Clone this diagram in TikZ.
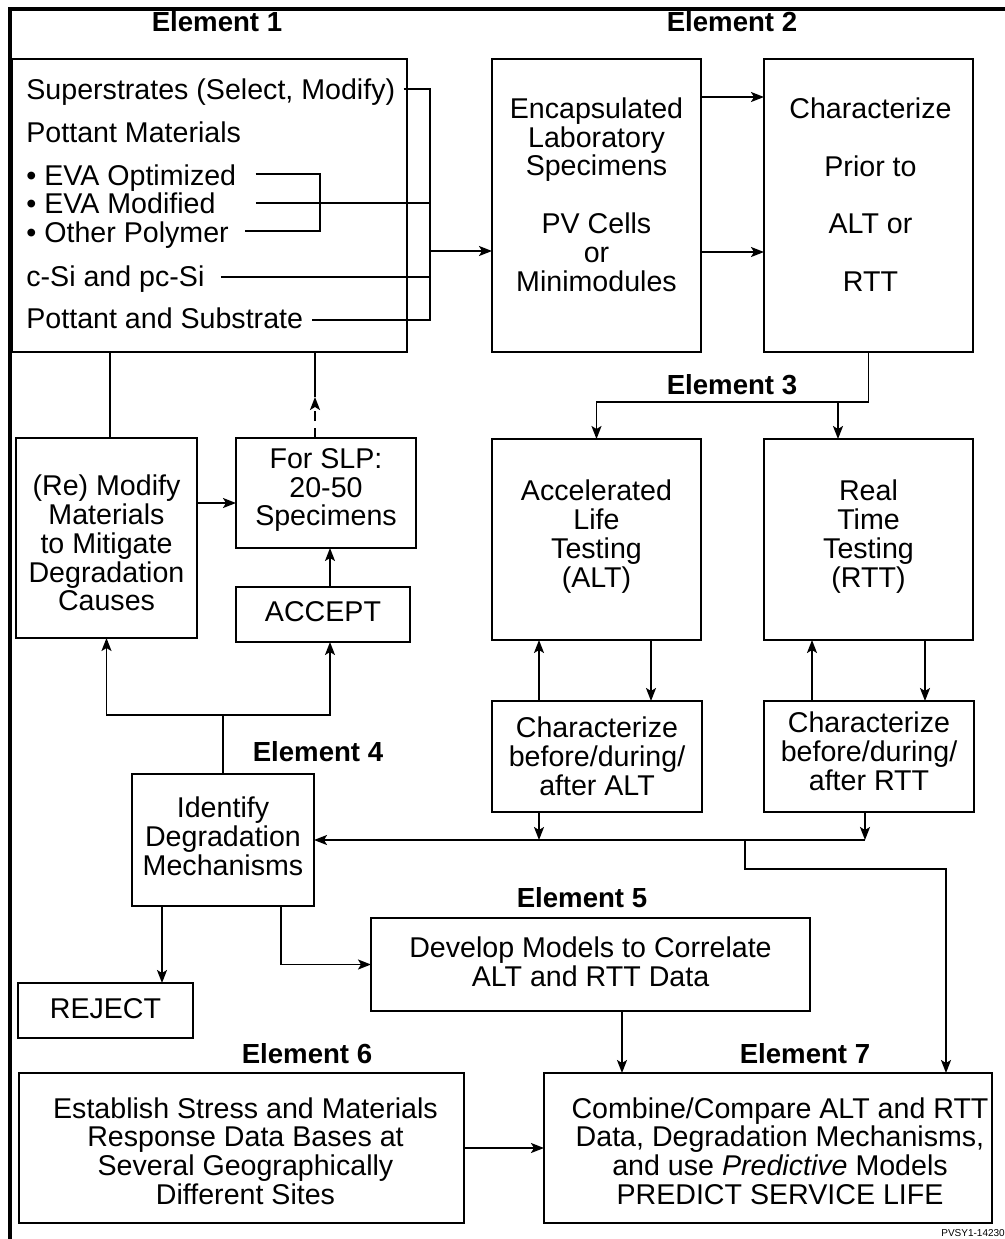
\documentclass[tikz,border=0pt]{standalone}
\usepackage{fontspec}
\setmainfont{Liberation Sans}
\usetikzlibrary{arrows.meta,calc}

% box drawn from corner (x1,y1) to (x2,y2), with its text placed at the centre plus an offset
\newcommand\boxat[7]{%
  \node[box,minimum width={(#4-#2)*0.5pt},minimum height={(#5-#3)*0.5pt}] (#1) at ({(#2+#4)/2},{(#3+#5)/2}) {};
  \node[txt] (#1-t) at ($(#1.center)+(#6)$) {#7};}

\begin{document}
\begin{tikzpicture}[x=0.5pt,y=-0.5pt,
  box/.style={draw,line width=1pt,inner sep=0pt,outer sep=0pt},
  txt/.style={align=center,inner sep=0pt,font=\fontsize{14.3}{14.4}\selectfont},
  ltxt/.style={anchor=base west,inner sep=0pt,font=\fontsize{14.3}{14.4}\selectfont},
  head/.style={inner sep=0pt,font=\fontsize{13.8}{14}\selectfont\bfseries},
  wire/.style={line width=0.9pt},
  arr/.style={wire,-{Stealth[length=6.5pt,width=5pt,inset=1.5pt]}},
]
\useasboundingbox (0,0) rectangle (1005,1239);

% outer frame (top and left)
\draw[line width=1.6pt] (10,1245) -- (10,9) -- (1010,9);

% headings
\node[head] (el1) at (217,22) {Element 1};
\node[head] (el2) at (732,22) {Element 2};
\node[head] (el3) at (732,385) {Element 3};
\node[head] (el4) at (318,752) {Element 4};
\node[head] (el5) at (582,898) {Element 5};
\node[head] (el6) at (307,1054) {Element 6};
\node[head] (el7) at (805,1054) {Element 7};

% Element 1: materials
\node[box,minimum width={(407-12)*0.5pt},minimum height={(352-59)*0.5pt}] (e1) at ({(12+407)/2},{(59+352)/2}) {};
\node[ltxt] (sup)  at (26,99)  {Superstrates (Select, Modify)};
\node[ltxt] (potm) at (26,142) {Pottant Materials};
\node[ltxt] (evao) at (26,185) {\textbullet\ EVA Optimized};
\node[ltxt] (evam) at (26,213) {\textbullet\ EVA Modified};
\node[ltxt] (othp) at (26,242) {\textbullet\ Other Polymer};
\node[ltxt] (csi)  at (26,286) {c-Si and pc-Si};
\node[ltxt] (pns)  at (26,328) {Pottant and Substrate};

% Element 2 and 3 boxes
\boxat{encap}{492}{59}{701}{352}{0,-11}{Encapsulated\\Laboratory\\Specimens\\[14.4pt]PV Cells\\or\\Minimodules}
\boxat{prior}{764}{59}{973}{352}{2,-11}{Characterize\\[14.4pt]Prior to\\[14.4pt]ALT or\\[14.4pt]RTT}
\boxat{alt}{492}{439}{701}{640}{0,-3}{Accelerated\\Life\\Testing\\(ALT)}
\boxat{rtt}{764}{439}{973}{640}{0,-3}{Real\\Time\\Testing\\(RTT)}
\boxat{calt}{492}{701}{702}{812}{0,0}{Characterize\\before/during/\\after ALT}
\boxat{crtt}{764}{701}{974}{812}{0,-5}{Characterize\\before/during/\\after RTT}

% left column
\boxat{modify}{16}{438}{197}{638}{0,5}{(Re) Modify\\Materials\\to Mitigate\\Degradation\\Causes}
\boxat{slp}{236}{438}{416}{548}{0,-3}{For SLP:\\20-50\\Specimens}
\boxat{accept}{236}{587}{410}{642}{0,-3}{ACCEPT}
\boxat{ident}{132}{774}{314}{906}{0,-4}{Identify\\Degradation\\Mechanisms}
\boxat{reject}{18}{983}{193}{1038}{0,-2}{REJECT}

% Elements 5, 6, 7
\boxat{develop}{371}{918}{810}{1011}{0,-3}{Develop Models to Correlate\\ALT and RTT Data}
\boxat{est}{19}{1073}{464}{1223}{4,3}{Establish Stress and Materials\\Response Data Bases at\\Several Geographically\\Different Sites}
\boxat{comb}{544}{1073}{992}{1223}{12,3}{Combine/Compare ALT and RTT\\Data, Degradation Mechanisms,\\and use \textit{Predictive} Models\\PREDICT SERVICE LIFE}

\node[anchor=base west,inner sep=0pt,font=\fontsize{5}{5}\selectfont] (code) at (941,1236) {PVSY1-14230};

% Element 1 collector lines
\coordinate (busB) at (430,320);
\coordinate (busM) at (430,251);
\coordinate (evaj) at (320,231);
\draw[wire] ($(sup.base east)+(8,-10)$) -| (busB) -- ($(pns.base east)+(9,-8)$);
\draw[wire] ($(evao.base east)+(19,-11)$) -| (evaj) -- ($(othp.base east)+(16,-11)$);
\coordinate (evamL) at ($(evam.base east)+(40,-10)$);
\draw[wire] (evamL) -- (evamL -| busB);
\coordinate (csiL) at ($(csi.base east)+(16,-9)$);
\draw[wire] (csiL) -- (csiL -| busB);
\draw[arr] (busM) -- (busM -| encap.west);

% Element 2 links
\draw[arr] ($(encap.north east)+(0,38)$) -- ($(prior.north west)+(0,38)$);
\draw[arr] ($(encap.north east)+(0,193)$) -- ($(prior.north west)+(0,193)$);

% Element 3 split
\draw[arr] (prior.south) -- ++(0,50) -| (alt.north);
\coordinate (e3s) at (838,402);
\draw[arr] (e3s) -- (e3s |- rtt.north);

% testing and characterisation loops
\draw[arr] ($(calt.north west)+(47,0)$) -- ($(alt.south west)+(47,0)$);
\draw[arr] ($(alt.south west)+(159,0)$) -- ($(calt.north west)+(159,0)$);
\draw[arr] ($(crtt.north west)+(48,0)$) -- ($(rtt.south west)+(48,0)$);
\draw[arr] ($(rtt.south west)+(161,0)$) -- ($(crtt.north west)+(161,0)$);

% results to Element 4 and Element 7
\coordinate (bus2) at (865,840);
\coordinate (br) at (745,840);
\draw[arr] ($(calt.south west)+(47,0)$) -- ++(0,28);
\draw[arr] ($(crtt.south west)+(101,0)$) -- ++(0,28);
\draw[arr] (bus2) -- (bus2 -| ident.east);
\draw[arr] (br) -- ++(0,29) -| ($(comb.north west)+(402,0)$);

% Element 4 feedback
\draw[arr] (ident.north) -- ++(0,-59) -| (modify.south);
\draw[arr] (ident.north) ++(0,-59) -| ($(accept.south west)+(94,0)$);
\draw[arr] ($(accept.north west)+(94,0)$) -- ($(slp.south west)+(94,0)$);
\draw[arr] ($(modify.north east)+(0,65)$) -- ($(slp.north west)+(0,65)$);
\coordinate (m1) at ($(e1.south west)+(98,0)$);
\draw[wire] (m1) -- (m1 |- modify.north);
\coordinate (dtop) at ($(slp.north west)+(79,-41)$);
\draw[arr,dash pattern=on 5pt off 3.5pt] ($(slp.north west)+(79,0)$) -- (dtop);
\draw[wire] (dtop) -- (dtop |- e1.south);

% Element 4 outputs
\coordinate (r1) at ($(ident.south west)+(30,0)$);
\draw[arr] (r1) -- (r1 |- reject.north);
\draw[arr] ($(ident.south west)+(149,0)$) |- (develop.west);
\coordinate (d1) at ($(develop.south west)+(251,0)$);
\draw[arr] (d1) -- (d1 |- comb.north);
\draw[arr] (est.east) -- (comb.west);
\end{tikzpicture}
\end{document}
